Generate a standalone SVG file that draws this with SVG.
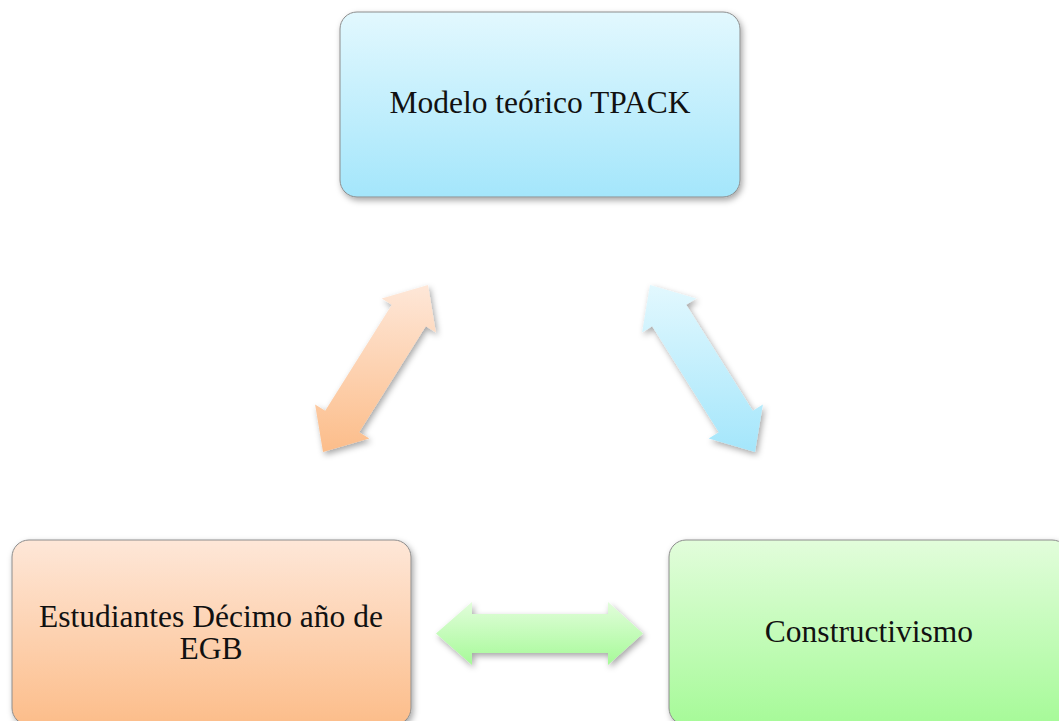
<svg xmlns="http://www.w3.org/2000/svg" width="1059" height="721" viewBox="0 0 1059 721">
<style>
.box{stroke:#8c8c8c;stroke-width:1;filter:url(#sh)}
.arr{filter:url(#sh)}
.lbl{font-family:"Liberation Serif","Times New Roman",serif;font-size:31.5px;fill:#111;text-anchor:middle}
</style>
<defs>
<filter id="sh" x="-20%" y="-20%" width="140%" height="140%">
<feDropShadow dx="2" dy="3" stdDeviation="3" flood-color="#000" flood-opacity="0.35"/>
</filter>
<linearGradient id="gBlue" x1="0" y1="0" x2="0" y2="1">
<stop offset="0" stop-color="#e2f8fe"/><stop offset="1" stop-color="#a4e6fb"/>
</linearGradient>
<linearGradient id="gOrange" x1="0" y1="0" x2="0" y2="1">
<stop offset="0" stop-color="#fee7d8"/><stop offset="1" stop-color="#fcbd8a"/>
</linearGradient>
<linearGradient id="gGreen" x1="0" y1="0" x2="0" y2="1">
<stop offset="0" stop-color="#e2fddb"/><stop offset="1" stop-color="#a6fa98"/>
</linearGradient>
</defs>
<rect width="1059" height="721" fill="#fff"/>
<g id="connectors">
<polygon class="arr" fill="url(#gOrange)" points="323,452 369.3,438.6 359.2,432.2 425.8,326.2 435.9,332.6 428,285 381.7,298.4 391.8,304.8 325.2,410.8 315.1,404.4"/>
<polygon class="arr" fill="url(#gBlue)" points="755,452 708.7,438.6 718.8,432.2 652.2,326.2 642.1,332.6 650,285 696.3,298.4 686.2,304.8 752.8,410.8 762.9,404.4"/>
<polygon class="arr" fill="url(#gGreen)" points="436,633.5 472,602 472,614 608,614 608,602 643,633.5 608,665 608,653 472,653 472,665"/>
</g>
<g id="node-tpack">
<rect class="box" x="340" y="12" width="400" height="185" rx="17" fill="url(#gBlue)"/>
<text class="lbl" x="540" y="113">Modelo teórico TPACK</text>
</g>
<g id="node-estudiantes">
<rect class="box" x="12" y="540" width="399" height="185" rx="17" fill="url(#gOrange)"/>
<text class="lbl" x="211" y="627">Estudiantes Décimo año de</text>
<text class="lbl" x="211" y="659">EGB</text>
</g>
<g id="node-constructivismo">
<rect class="box" x="669" y="540" width="400" height="185" rx="17" fill="url(#gGreen)"/>
<text class="lbl" x="869" y="642">Constructivismo</text>
</g>
</svg>
